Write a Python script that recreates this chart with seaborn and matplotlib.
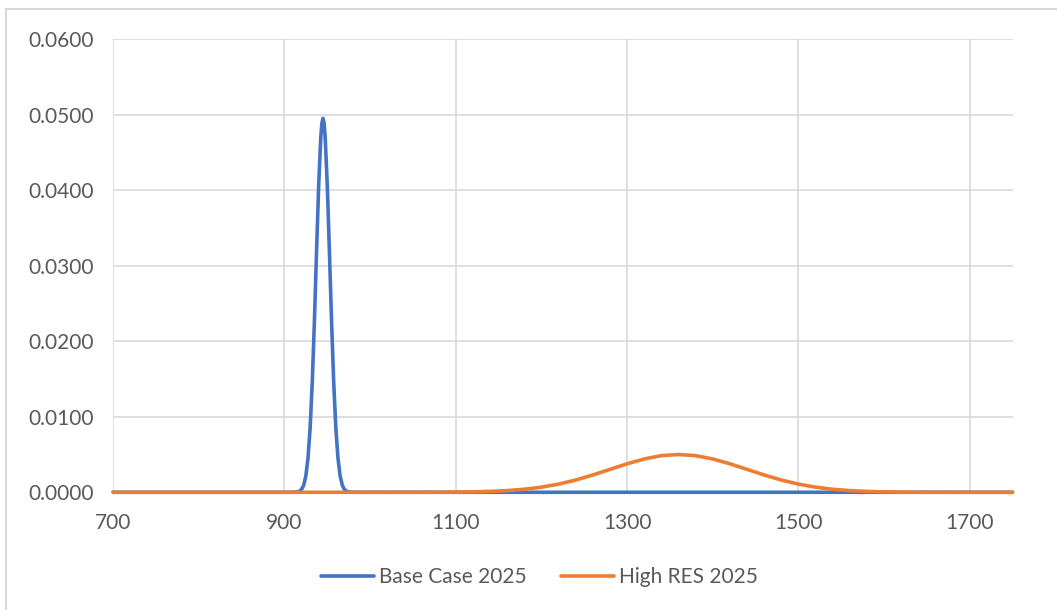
import matplotlib
matplotlib.use("Agg")
import matplotlib.pyplot as plt
import seaborn as sns
import pandas as pd
from matplotlib.patches import Rectangle

# ---- data ----
base_x = [700, 880, 900, 905, 910, 912.5, 915, 917.5, 920, 922.5, 925, 927.5, 930, 932.5, 935,
          937.5, 940, 942.5, 943.75, 945, 946.25, 947.5, 950, 952.5, 955, 957.5, 960, 962.5, 965,
          967.5, 970, 972.5, 975, 980, 985, 990, 1000, 1750]
base_y = [0.0, 0.0, 0.0, 0.0, 0.000003, 0.000013, 0.0000437, 0.000135, 0.000376, 0.000948, 0.00217,
          0.00452, 0.00853, 0.0146, 0.02267, 0.0319, 0.04073, 0.0471, 0.0489, 0.0495, 0.0489,
          0.0471, 0.04073, 0.0319, 0.02267, 0.0146, 0.00853, 0.00452, 0.00217,
          0.000948, 0.000376, 0.000135, 0.0000437, 0.000003, 0.0, 0.0, 0.0, 0.0]

high_x = [700, 1000, 1060, 1080, 1100, 1120, 1140, 1160, 1180, 1200, 1220, 1240, 1260, 1280,
          1300, 1320, 1340, 1360, 1380, 1400, 1420, 1440, 1460, 1480, 1500,
          1520, 1540, 1560, 1580, 1600, 1620, 1640, 1660, 1700, 1750]
high_y = [0.0, 0.0, 0.000002, 0.000009, 0.0000255, 0.0000555, 0.000114, 0.00022, 0.000398,
          0.000677, 0.00108, 0.00162, 0.00229, 0.00303, 0.00377, 0.00441, 0.00485,
          0.0050, 0.00485, 0.00441, 0.00377, 0.00303, 0.00229, 0.00162, 0.00108,
          0.000677, 0.000398, 0.00022, 0.000114, 0.0000555, 0.0000255, 0.000009,
          0.000002, 0.0, 0.0]

series_names = ["Base Case 2025", "High RES 2025"]
x_ticks = [700, 900, 1100, 1300, 1500, 1700]
y_ticks = [0.0, 0.01, 0.02, 0.03, 0.04, 0.05, 0.06]

df = pd.concat([
    pd.DataFrame({"x": base_x, "y": base_y, "series": series_names[0]}),
    pd.DataFrame({"x": high_x, "y": high_y, "series": series_names[1]}),
])

sns.set_theme(style="white")
plt.rcParams["font.family"] = ["Lato", "DejaVu Sans"]

fig = plt.figure(figsize=(10.57, 6.10), dpi=100)
ax = fig.add_axes([0.107, 0.193, 0.851, 0.743])

palette = {series_names[0]: "#4472C4", series_names[1]: "#ED7D31"}
sns.lineplot(data=df, x="x", y="y", hue="series", palette=palette, linewidth=2.6,
             ax=ax, sort=False, estimator=None, legend=True)
for ln in ax.get_lines():
    ln.set_clip_on(False)
    ln.set_solid_joinstyle("round")

ax.set_xlim(700, 1750)
ax.set_ylim(0, 0.06)
ax.set_xticks(x_ticks)
ax.set_yticks(y_ticks)
ax.set_yticklabels([f"{v:.4f}" for v in y_ticks])
ax.set_xlabel("")
ax.set_ylabel("")
ax.grid(True, color="#D9D9D9", linewidth=1.2)
ax.set_axisbelow(True)
for s in ax.spines.values():
    s.set_visible(False)
ax.tick_params(axis="both", length=0, labelsize=15, labelcolor="#595959")
ax.tick_params(axis="y", pad=14)
ax.tick_params(axis="x", pad=15)

handles, labels = ax.get_legend_handles_labels()
leg = ax.legend(handles, labels, loc="center", bbox_to_anchor=(0.474, -0.188), ncol=2,
                frameon=False, fontsize=15, handlelength=2.55, columnspacing=1.68,
                handletextpad=0.24)
for t in leg.get_texts():
    t.set_color("#595959")

# outer chart border (left and top visible)
fig.patches.append(Rectangle((6 / 1057, -0.1), 1.2, 1 - 9 / 610 + 0.1,
                             transform=fig.transFigure, fill=False,
                             edgecolor="#D9D9D9", linewidth=1.5))

fig.savefig("out.png", dpi=100)
